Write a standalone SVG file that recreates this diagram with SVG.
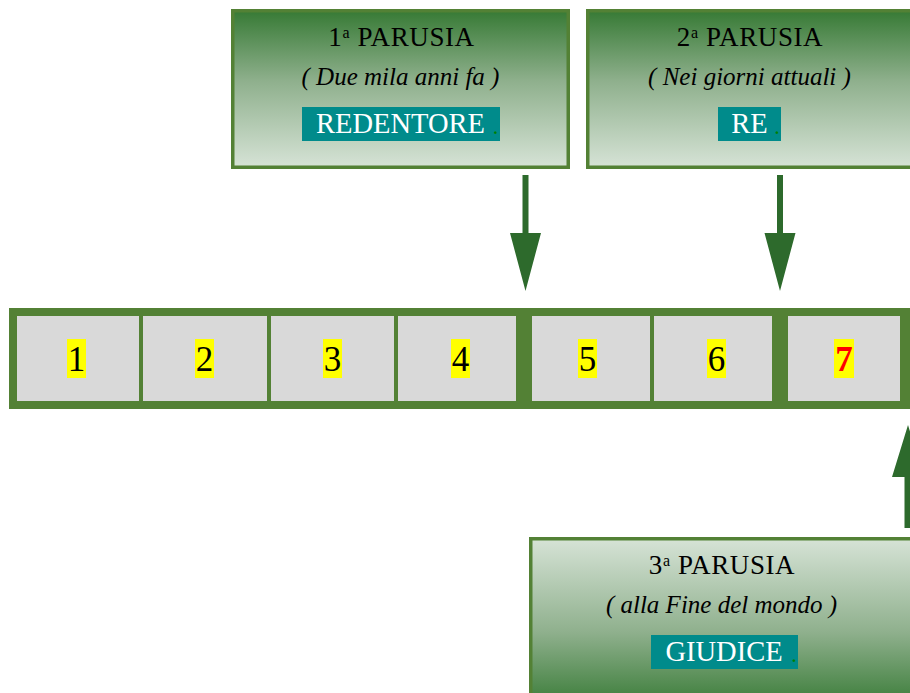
<svg xmlns="http://www.w3.org/2000/svg" width="910" height="693" viewBox="0 0 910 693">
<defs>
<linearGradient id="gDown" x1="0" y1="0" x2="0" y2="1">
<stop offset="0" stop-color="#377a35"/>
<stop offset="0.45" stop-color="#8fb08d"/>
<stop offset="1" stop-color="#d6e3d6"/>
</linearGradient>
<linearGradient id="gUp" x1="0" y1="0" x2="0" y2="1">
<stop offset="0" stop-color="#d6e3d6"/>
<stop offset="0.55" stop-color="#8fb08d"/>
<stop offset="1" stop-color="#377a35"/>
</linearGradient>
<style>
.box{stroke:#538135;stroke-width:3.5}
.title{font-family:"Liberation Serif",serif;font-size:27px;letter-spacing:0.6px;fill:#000;text-anchor:middle}
.sup{font-size:16px}
.sub{font-family:"Liberation Serif",serif;font-style:italic;font-size:25px;fill:#000;text-anchor:middle}
.tag{fill:#008b8b}
.tagt{font-family:"Liberation Serif",serif;font-size:28.5px;fill:#fff;text-anchor:middle}
.dot{font-family:"Liberation Serif",serif;font-size:16px;font-weight:bold;fill:#008000}
.cell{fill:#d9d9d9}
.hl{fill:#ffff00}
.num{font-family:"Liberation Serif",serif;font-size:35px;fill:#000;text-anchor:middle}
.arrow{fill:#2d6a2c}
</style>
</defs>

<g id="band">
<rect x="9" y="308" width="903" height="101" fill="#538135"/>
</g>
<g id="cell1"><rect class="cell" x="17" y="316" width="122" height="85"/><rect class="hl" x="67" y="339" width="19" height="39"/><text class="num" x="76.5" y="371">1</text></g>
<g id="cell2"><rect class="cell" x="143" y="316" width="124" height="85"/><rect class="hl" x="195" y="339" width="19" height="39"/><text class="num" x="204.5" y="371">2</text></g>
<g id="cell3"><rect class="cell" x="271" y="316" width="123" height="85"/><rect class="hl" x="323" y="339" width="19" height="39"/><text class="num" x="332.5" y="371">3</text></g>
<g id="cell4"><rect class="cell" x="398" y="316" width="118" height="85"/><rect class="hl" x="451" y="339" width="19" height="39"/><text class="num" x="460.5" y="371">4</text></g>
<g id="cell5"><rect class="cell" x="532" y="316" width="118" height="85"/><rect class="hl" x="578" y="339" width="19" height="39"/><text class="num" x="587.5" y="371">5</text></g>
<g id="cell6"><rect class="cell" x="654" y="316" width="118" height="85"/><rect class="hl" x="707" y="339" width="19" height="39"/><text class="num" x="716.5" y="371">6</text></g>
<g id="cell7"><rect class="cell" x="788" y="316" width="112" height="85"/><rect class="hl" x="834" y="339" width="20" height="39"/><text class="num" x="844" y="371" style="fill:#ff0000;font-weight:bold">7</text></g>

<g id="parusia1">
<rect class="box" x="232.75" y="10.75" width="335.5" height="156.5" fill="url(#gDown)"/>
<text class="title" x="401.5" y="46">1<tspan class="sup" dy="-8">a</tspan><tspan dy="8"> PARUSIA</tspan></text>
<text class="sub" x="400.5" y="85">( Due mila anni fa )</text>
<rect class="tag" x="302" y="107" width="198" height="34"/>
<text class="tagt" x="400.5" y="133">REDENTORE</text>
<text class="dot" x="493.5" y="134">.</text>
</g>

<g id="parusia2">
<rect class="box" x="587.75" y="10.75" width="335.5" height="156.5" fill="url(#gDown)"/>
<text class="title" x="750" y="46">2<tspan class="sup" dy="-8">a</tspan><tspan dy="8"> PARUSIA</tspan></text>
<text class="sub" x="749.5" y="85">( Nei giorni attuali )</text>
<rect class="tag" x="718" y="107" width="63" height="34"/>
<text class="tagt" x="749.5" y="133">RE</text>
<text class="dot" x="775" y="134">.</text>
</g>

<g id="parusia3">
<rect class="box" x="530.75" y="538.75" width="383" height="170" fill="url(#gUp)"/>
<text class="title" x="722" y="574">3<tspan class="sup" dy="-8">a</tspan><tspan dy="8"> PARUSIA</tspan></text>
<text class="sub" x="721.5" y="613">( alla Fine del mondo )</text>
<rect class="tag" x="651" y="635" width="147" height="34"/>
<text class="tagt" x="724" y="661">GIUDICE</text>
<text class="dot" x="792" y="662">.</text>
</g>

<g id="connectors">
<polygon class="arrow" points="522.5,175 528.5,175 528.5,233 541,233 525.5,291 510,233 522.5,233"/>
<polygon class="arrow" points="777,175 783,175 783,233 795.5,233 780,291 764.5,233 777,233"/>
<polygon class="arrow" points="904.5,528 911.5,528 911.5,477 924,477 908,425 892,477 904.5,477"/>
</g>
</svg>
